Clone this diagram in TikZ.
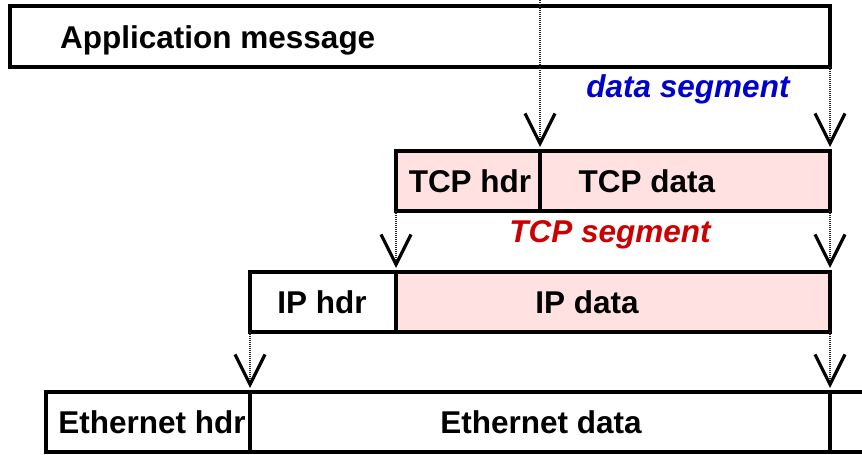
\documentclass[tikz,border=0pt]{standalone}
\usepackage{fontspec}
\setmainfont{Liberation Sans}
\usetikzlibrary{arrows.meta}
\definecolor{segpink}{RGB}{255,225,225}
\definecolor{segblue}{RGB}{0,0,204}
\definecolor{segred}{RGB}{204,0,0}
\begin{document}
\begin{tikzpicture}[x=1pt,y=-1pt,
 cell/.style={draw,line width=3.6pt,inner sep=0pt,outer sep=0pt,anchor=north west,minimum height=60pt},
 pinkcell/.style={cell,fill=segpink},
 lbl/.style={font=\fontsize{31.5}{31.5}\selectfont\bfseries,inner sep=0pt,anchor=base},
 seglbl/.style={font=\fontsize{31.5}{31.5}\selectfont\bfseries\itshape,inner sep=0pt,anchor=base},
 dotline/.style={line width=2.4pt,black!85,dash pattern=on 1pt off 1pt,shorten >=4pt,
   -{Straight Barb[length=30pt,width=30pt,line width=3.2pt,black]}}]
\useasboundingbox (0,0) rectangle (862,455);
\clip (0,0) rectangle (862,455);
% boxes
\node[cell,minimum width=820pt,minimum height=61pt] (app) at (10,6) {};
\node[pinkcell,minimum width=144pt] (tcph) at (396,151) {};
\node[pinkcell,minimum width=290pt] (tcpd) at (540,151) {};
\node[cell,minimum width=146pt] (iph) at (250,272) {};
\node[pinkcell,minimum width=434pt] (ipd) at (396,272) {};
\node[cell,minimum width=204pt] (ethh) at (46,392) {};
\node[cell,minimum width=580pt] (ethd) at (250,392) {};
\node[cell,minimum width=60pt] (ethr) at (830,392) {};
% labels
\node[lbl,anchor=base west] (tapp) at (60,48) {Application message};
\node[lbl] (ttcph) at (470,192) {TCP hdr};
\node[lbl] (ttcpd) at (647,192) {TCP data};
\node[lbl] (tiph) at (322,313) {IP hdr};
\node[lbl] (tipd) at (587,313) {IP data};
\node[lbl] (tethh) at (152,433) {Ethernet hdr};
\node[lbl] (tethd) at (541,433) {Ethernet data};
\node[seglbl,text=segblue] (tdseg) at (688,97) {data segment};
\node[seglbl,text=segred] (ttseg) at (610,242) {TCP segment};
% connectors
\coordinate (top) at (540,0);
\draw[dotline] (top) -- (tcph.north east);
\draw[dotline] (app.south east) -- (tcpd.north east);
\draw[dotline] (tcph.south west) -- (iph.north east);
\draw[dotline] (tcpd.south east) -- (ipd.north east);
\draw[dotline] (iph.south west) -- (ethh.north east);
\draw[dotline] (ipd.south east) -- (ethd.north east);
\end{tikzpicture}
\end{document}
